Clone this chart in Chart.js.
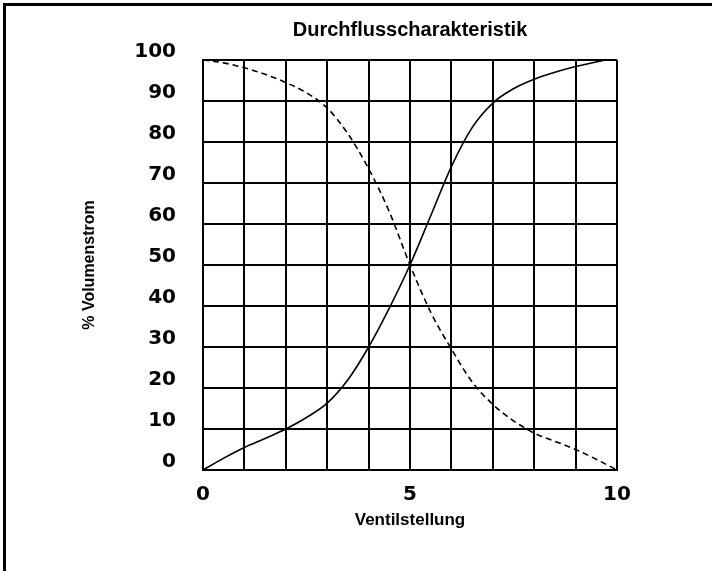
<!DOCTYPE html>
<html>
<head>
<meta charset="utf-8">
<script src="https://cdn.jsdelivr.net/npm/chart.js@4"></script>
<style>
html,body{margin:0;padding:0;background:#fff;}
canvas{display:block;}
</style>
</head>
<body>
<canvas id="c" width="712" height="571"></canvas>
<script>
const chartTitle = "Durchflusscharakteristik";
const xTitle = "Ventilstellung";
const yTitle = "% Volumenstrom";
const xLabeled = [0, 5, 10];

// rising curve (solid)
const solidX = [0, 0.5, 1, 1.5, 2, 2.5, 3, 3.5, 4, 4.5, 5, 5.5, 6, 6.5, 7, 7.5, 8, 8.5, 9, 9.5, 9.7];
const solidY = [0, 2.9, 5.5, 7.7, 10, 12.8, 16.3, 22, 30, 39.5, 50, 62, 74, 83.5, 89.5, 93, 95.3, 97, 98.4, 99.5, 100];

// falling curve (dashed)
const dashedX = [0, 0.5, 1, 1.5, 2, 2.5, 3, 3.5, 4, 4.5, 5, 5.5, 6, 6.5, 7, 7.5, 8, 8.5, 9, 9.5, 10];
const dashedY = [100, 99.3, 98.1, 96.5, 94.5, 92, 88.3, 82, 73.5, 63, 50, 38.5, 29.5, 21.5, 16, 12, 9, 7, 5, 2.6, 0];

const toPts = (xs, ys) => xs.map((x, i) => ({x: x, y: ys[i]}));

const frame = {
  id: 'frame',
  beforeDraw(chart) {
    const ctx = chart.ctx;
    ctx.save();
    ctx.fillStyle = '#fff';
    ctx.fillRect(0, 0, chart.width, chart.height);
    ctx.fillStyle = '#000';
    ctx.fillRect(3, 3, 3, chart.height - 3);
    ctx.fillRect(3, 3, chart.width - 3, 3);
    ctx.restore();
  }
};

new Chart(document.getElementById('c'), {
  type: 'scatter',
  data: {
    datasets: [
      {data: toPts(solidX, solidY), showLine: true, borderColor: '#000', borderWidth: 1.6,
       pointRadius: 0, cubicInterpolationMode: 'monotone', fill: false},
      {data: toPts(dashedX, dashedY), showLine: true, borderColor: '#000', borderWidth: 1.6,
       borderDash: [6, 4], pointRadius: 0, cubicInterpolationMode: 'monotone', fill: false}
    ]
  },
  options: {
    responsive: false,
    animation: false,
    layout: {padding: {left: 0, right: 95, top: 0, bottom: 0}},
    plugins: {
      legend: {display: false},
      tooltip: {enabled: false},
      title: {
        display: true, text: chartTitle, color: '#000', fullSize: false,
        font: {family: 'Liberation Sans', size: 20, weight: 'bold', lineHeight: 1.2},
        padding: {top: 18, bottom: 18}
      }
    },
    scales: {
      x: {
        type: 'linear', min: 0, max: 10,
        afterFit(s) { s.height = 101; },
        grid: {color: '#000', lineWidth: 2, drawTicks: false},
        border: {color: '#000', width: 2},
        ticks: {
          stepSize: 1, padding: 13, color: '#000', maxRotation: 0, autoSkip: false,
          font: {family: 'DejaVu Sans', size: 20, weight: 'bold'},
          callback: v => xLabeled.includes(v) ? String(v) : ''
        },
        title: {display: true, text: xTitle, color: '#000',
          font: {family: 'Liberation Sans', size: 17, weight: 'bold', lineHeight: 1.2},
          padding: {top: 0, bottom: 40.8}}
      },
      y: {
        min: 0, max: 100,
        afterFit(s) { s.width = 203; },
        grid: {color: '#000', lineWidth: 2, drawTicks: false},
        border: {color: '#000', width: 2},
        ticks: {
          stepSize: 10, padding: 27, color: '#000', labelOffset: -8,
          font: {family: 'DejaVu Sans', size: 20, weight: 'bold'}
        },
        title: {display: true, text: yTitle, color: '#000',
          font: {family: 'Liberation Sans', size: 16, weight: 'bold', lineHeight: 1.2},
          padding: {top: 80.4, bottom: 0}}
      }
    }
  },
  plugins: [frame]
});
</script>
</body>
</html>
